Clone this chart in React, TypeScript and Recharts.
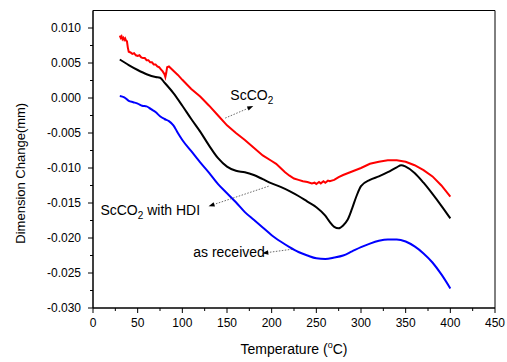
import React from 'react';
import {
  LineChart,
  Line,
  XAxis,
  YAxis,
  ReferenceArea,
  ReferenceLine,
  ReferenceDot,
} from 'recharts';

const FONT = '"Liberation Sans", Arial, Helvetica, sans-serif';

// ScCO2 (red) - noisy at the start
const RED_T = [30, 31, 32, 33, 34, 35, 36, 37, 38, 39, 40, 42, 44, 46, 48, 50, 52, 54, 56, 58, 60, 62, 64, 66, 68, 70, 72, 74, 76, 78, 80, 81, 82, 83, 85, 90, 95, 100, 110, 120, 130, 140, 150, 160, 170, 180, 190, 200, 205, 210, 215, 220, 225, 230, 235, 240, 245, 248, 250, 253, 255, 258, 260, 263, 265, 270, 275, 280, 290, 300, 310, 320, 330, 340, 350, 360, 370, 380, 390, 400];
const RED_V = [0.0089, 0.0086, 0.0088, 0.0084, 0.0086, 0.0083, 0.0085, 0.0082, 0.0081, 0.0072, 0.0066, 0.0065, 0.0063, 0.0064, 0.0061, 0.0060, 0.0061, 0.0058, 0.0057, 0.0057, 0.0054, 0.0054, 0.0051, 0.0051, 0.0048, 0.0048, 0.0045, 0.0044, 0.0041, 0.0038, 0.0034, 0.0030, 0.0036, 0.0044, 0.0045, 0.0039, 0.0033, 0.0026, 0.0013, 0.0002, -0.0011, -0.0025, -0.0039, -0.0050, -0.0060, -0.0071, -0.0082, -0.0090, -0.0094, -0.0100, -0.0106, -0.0111, -0.0115, -0.0117, -0.0119, -0.0120, -0.0122, -0.0121, -0.0123, -0.0120, -0.0122, -0.0119, -0.0121, -0.0118, -0.0119, -0.0117, -0.0113, -0.0110, -0.0105, -0.0100, -0.0094, -0.0091, -0.0089, -0.0089, -0.0091, -0.0096, -0.0103, -0.0112, -0.0125, -0.0141];

// ScCO2 with HDI (black)
const BLACK_T = [30, 40, 50, 60, 70, 75, 80, 90, 100, 110, 120, 130, 140, 150, 160, 170, 180, 190, 200, 210, 220, 230, 240, 250, 260, 265, 270, 275, 280, 285, 290, 295, 300, 310, 320, 330, 340, 345, 350, 360, 370, 380, 390, 400];
const BLACK_V = [0.0055, 0.0047, 0.0040, 0.0034, 0.0030, 0.0029, 0.0022, 0.0007, -0.0011, -0.0030, -0.0048, -0.0068, -0.0086, -0.0098, -0.0104, -0.0106, -0.0110, -0.0116, -0.0122, -0.0127, -0.0133, -0.0140, -0.0148, -0.0156, -0.0168, -0.0177, -0.0184, -0.0186, -0.0182, -0.0174, -0.0158, -0.0140, -0.0126, -0.0117, -0.0112, -0.0106, -0.0099, -0.0096, -0.0098, -0.0107, -0.0121, -0.0137, -0.0154, -0.0172];

// as received (blue)
const BLUE_T = [30, 35, 40, 45, 50, 55, 60, 65, 70, 75, 80, 85, 90, 95, 100, 110, 120, 130, 140, 150, 160, 170, 180, 190, 200, 210, 220, 230, 240, 250, 260, 270, 280, 290, 300, 310, 320, 330, 340, 350, 360, 370, 380, 390, 400];
const BLUE_V = [0.0003, 0.0001, -0.0004, -0.0006, -0.0008, -0.0011, -0.0012, -0.0016, -0.0020, -0.0026, -0.0030, -0.0033, -0.0039, -0.0050, -0.0060, -0.0076, -0.0092, -0.0107, -0.0123, -0.0136, -0.0149, -0.0163, -0.0174, -0.0185, -0.0196, -0.0205, -0.0213, -0.0220, -0.0225, -0.0229, -0.0230, -0.0228, -0.0225, -0.0219, -0.0213, -0.0208, -0.0204, -0.0202, -0.0202, -0.0205, -0.0212, -0.0222, -0.0235, -0.0252, -0.0272];

const X_TICKS = [0, 25, 50, 75, 100, 125, 150, 175, 200, 225, 250, 275, 300, 325, 350, 375, 400, 425, 450];
const X_LABELS = [0, 50, 100, 150, 200, 250, 300, 350, 400, 450];
const Y_TICKS = [-0.03, -0.0275, -0.025, -0.0225, -0.02, -0.0175, -0.015, -0.0125, -0.01, -0.0075, -0.005, -0.0025, 0, 0.0025, 0.005, 0.0075, 0.01];
const Y_LABELS = [-0.03, -0.025, -0.02, -0.015, -0.01, -0.005, 0, 0.005, 0.01];

const toRows = (t: number[], v: number[]) => t.map((x, i) => ({ t: x, v: v[i] }));
const redData = toRows(RED_T, RED_V);
const blackData = toRows(BLACK_T, BLACK_V);
const blueData = toRows(BLUE_T, BLUE_V);

const isIn = (list: number[], v: number) => list.some((l) => Math.abs(l - v) < 1e-9);

const XTick = (props: any) => {
  const { x, y, payload } = props;
  const major = isIn(X_LABELS, payload.value);
  return (
    <g>
      <line x1={x} y1={y} x2={x} y2={y + (major ? 5 : 3)} stroke="#000" />
      {major && (
        <text x={x} y={y + 19} textAnchor="middle" fontSize={12} fontFamily={FONT} fill="#000">
          {payload.value}
        </text>
      )}
    </g>
  );
};

const YTick = (props: any) => {
  const { x, y, payload } = props;
  const major = isIn(Y_LABELS, payload.value);
  return (
    <g>
      <line x1={x - (major ? 5 : 3)} y1={y} x2={x} y2={y} stroke="#000" />
      {major && (
        <text x={x - 12} y={y + 4} textAnchor="end" fontSize={12} fontFamily={FONT} fill="#000">
          {Number(payload.value).toFixed(3)}
        </text>
      )}
    </g>
  );
};

// dotted leader line with a small arrow head at the second point
const Arrow = (props: any) => {
  const { x1, y1, x2, y2 } = props;
  const a = Math.atan2(y2 - y1, x2 - x1);
  const L = 6;
  const W = 2.2;
  const bx = x2 - L * Math.cos(a);
  const by = y2 - L * Math.sin(a);
  const px = -Math.sin(a) * W;
  const py = Math.cos(a) * W;
  return (
    <g>
      <line x1={x1} y1={y1} x2={bx} y2={by} stroke="#444" strokeWidth={0.8} strokeDasharray="1.5 1.5" />
      <polygon points={`${x2},${y2} ${bx + px},${by + py} ${bx - px},${by - py}`} fill="#000" />
    </g>
  );
};

const textLabel = (main: string, sub?: string, tail?: string) => (props: any) => (
  <text x={props.cx} y={props.cy} fontSize={14} fontFamily={FONT} fill="#000">
    {main}
    {sub && (
      <tspan fontSize={10} dy={4}>
        {sub}
      </tspan>
    )}
    {tail && <tspan dy={sub ? -4 : 0}>{tail}</tspan>}
  </text>
);

const App: React.FC = () => {
  return (
    <div style={{ position: 'absolute', left: 0, top: 0, width: 507, height: 362, background: '#fff' }}>
      <LineChart width={507} height={362} margin={{ top: 10.5, right: 12, bottom: 0, left: 0 }}>
        <XAxis
          type="number"
          dataKey="t"
          domain={[0, 450]}
          ticks={X_TICKS}
          interval={0}
          tickSize={0}
          tickMargin={0}
          tickLine={false}
          tick={<XTick />}
          axisLine={{ stroke: '#000' }}
          height={54}
          label={{
            content: (p: any) => {
              const vb = p.viewBox;
              return (
                <text x={vb.x + vb.width / 2} y={vb.y + 46} textAnchor="middle" fontSize={14} fontFamily={FONT} fill="#000">
                  Temperature (
                  <tspan fontSize={9} dy={-6}>o</tspan>
                  <tspan dy={6}>C)</tspan>
                </text>
              );
            },
          }}
        />
        <YAxis
          type="number"
          domain={[-0.03, 0.0125]}
          ticks={Y_TICKS}
          interval={0}
          tickSize={0}
          tickMargin={0}
          tickLine={false}
          tick={<YTick />}
          axisLine={{ stroke: '#000' }}
          width={93}
          allowDataOverflow
          label={{
            content: (p: any) => {
              const vb = p.viewBox;
              const cx = vb.x + 25;
              const cy = vb.y + vb.height / 2 + 14;
              return (
                <text x={cx} y={cy} transform={`rotate(-90 ${cx} ${cy})`} textAnchor="middle" fontSize={13} fontFamily={FONT} fill="#000">
                  Dimension Change(mm)
                </text>
              );
            },
          }}
        />
        <ReferenceArea x1={0} x2={450} y1={-0.03} y2={0.0125} fill="none" stroke="#000" strokeWidth={1} ifOverflow="visible" />

        <Line data={redData} dataKey="v" type="linear" stroke="#ff0000" strokeWidth={2} dot={false} isAnimationActive={false} />
        <Line data={blackData} dataKey="v" type="monotone" stroke="#000000" strokeWidth={2} dot={false} isAnimationActive={false} />
        <Line data={blueData} dataKey="v" type="monotone" stroke="#0000ff" strokeWidth={2} dot={false} isAnimationActive={false} />

        <ReferenceLine segment={[{ x: 148, y: -0.00287 }, { x: 179.4, y: -0.00116 }]} shape={<Arrow />} ifOverflow="visible" />
        <ReferenceLine segment={[{ x: 196.6, y: -0.0126 }, { x: 129.4, y: -0.01546 }]} shape={<Arrow />} ifOverflow="visible" />
        <ReferenceLine segment={[{ x: 223, y: -0.0216 }, { x: 189.5, y: -0.02218 }]} shape={<Arrow />} ifOverflow="visible" />

        <ReferenceDot x={153.7} y={-0.0003} r={0} ifOverflow="visible" shape={textLabel('ScCO', '2')} />
        <ReferenceDot x={8.3} y={-0.01674} r={0} ifOverflow="visible" shape={textLabel('ScCO', '2', ' with HDI')} />
        <ReferenceDot x={112.2} y={-0.02275} r={0} ifOverflow="visible" shape={textLabel('as received')} />
      </LineChart>
    </div>
  );
};

export default App;
